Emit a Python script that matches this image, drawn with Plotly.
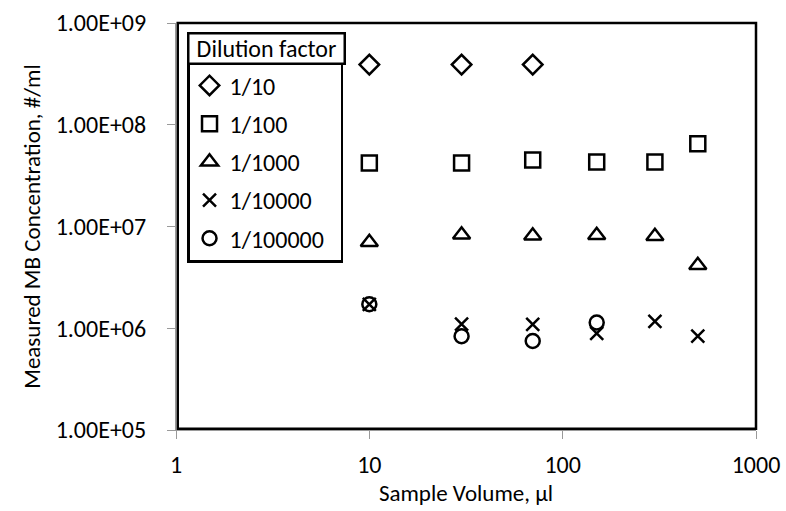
import plotly.graph_objects as go

# Sample volumes (µl)
volumes = [10, 30, 70, 150, 300, 500]

# Measured MB concentration (#/ml) per dilution factor
conc_1_10 = [3.9e8, 3.9e8, 3.9e8]
conc_1_100 = [4.2e7, 4.2e7, 4.5e7, 4.3e7, 4.3e7, 6.5e7]
conc_1_1000 = [7.0e6, 8.3e6, 8.1e6, 8.2e6, 8.0e6, 4.15e6]
conc_1_10000 = [1.72e6, 1.1e6, 1.09e6, 8.9e5, 1.17e6, 8.35e5]
conc_1_100000 = [1.72e6, 8.35e5, 7.5e5, 1.14e6]

series = [
    ("1/10", volumes[:3], conc_1_10, "diamond-open", 15),
    ("1/100", volumes, conc_1_100, "square-open", 15),
    ("1/1000", volumes, conc_1_1000, "triangle-up-open", 15),
    ("1/10000", volumes, conc_1_10000, "x-thin-open", 13),
    ("1/100000", volumes[:4], conc_1_100000, "circle-open", 14),
]

x_ticks = [1, 10, 100, 1000]
x_ticktext = ["1", "10", "100", "1000"]
y_ticks = [1e5, 1e6, 1e7, 1e8, 1e9]
y_ticktext = ["1.00E+05", "1.00E+06", "1.00E+07", "1.00E+08", "1.00E+09"]

FONT = "Carlito, Lato, sans-serif"
FS = 24
FS_TITLE = 23
NBSP = "\u00a0"

fig = go.Figure()
for i, (name, xs, ys, sym, sz) in enumerate(series):
    fig.add_trace(go.Scatter(
        # trailing non-breaking spaces leave room on the right of the entries
        x=xs, y=ys, mode="markers", name=name + NBSP * 2, legendgroup=f"g{i}",
        marker=dict(symbol=sym, size=sz, color="black",
                    line=dict(color="black", width=2.5)),
    ))

fig.update_layout(
    width=786, height=511,
    margin=dict(l=176, r=30, t=23, b=81),
    paper_bgcolor="white", plot_bgcolor="white",
    font=dict(family=FONT, size=FS, color="black"),
    showlegend=True,
    legend=dict(
        x=0.019, y=0.907, xanchor="left", yanchor="top",
        bordercolor="black", borderwidth=2.5, bgcolor="white",
        font=dict(size=FS), tracegroupgap=4, itemwidth=30,
    ),
    xaxis=dict(
        type="log", range=[0, 3], tickvals=x_ticks, ticktext=x_ticktext,
        showgrid=False, zeroline=False, showline=True, linecolor="#9a9a9a",
        linewidth=1, ticks="outside", ticklen=8, tickcolor="#9a9a9a",
        ticklabelstandoff=5, automargin=False,
        title=dict(text="Sample Volume, µl", standoff=4, font=dict(size=FS_TITLE)),
        tickfont=dict(size=FS),
    ),
    yaxis=dict(
        type="log", range=[5, 9], tickvals=y_ticks, ticktext=y_ticktext,
        showgrid=False, zeroline=False, showline=True, linecolor="#9a9a9a",
        linewidth=1, ticks="outside", ticklen=8, tickcolor="#9a9a9a",
        ticklabelstandoff=16, automargin=False,
        title=dict(text="Measured MB Concentration, #/ml", standoff=8, font=dict(size=FS_TITLE)),
        tickfont=dict(size=FS),
    ),
    shapes=[
        dict(type="rect", xref="paper", yref="paper", x0=0.003, x1=1, y0=0.003, y1=1,
             line=dict(color="black", width=2.5), fillcolor="rgba(0,0,0,0)"),
    ],
    annotations=[
        # legend heading drawn in its own bordered cell above the entries
        dict(text="Dilution factor", xref="paper", yref="paper",
             x=0.019, y=0.978, xanchor="left", yanchor="top",
             showarrow=False, font=dict(size=FS), align="center",
             width=152, height=26, borderpad=1,
             bordercolor="black", borderwidth=2.5, bgcolor="white"),
    ],
)

fig.write_html("out.html")
